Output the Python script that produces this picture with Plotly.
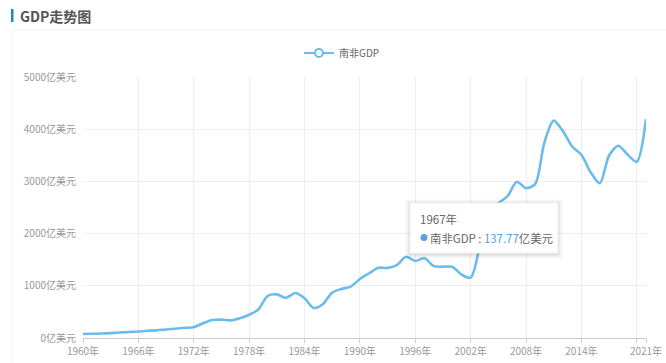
import plotly.graph_objects as go

# ---------------- data (亿美元) ----------------
years = list(range(1960, 2022))
gdp = [76, 80, 85, 94, 104, 114, 124, 137.77, 147, 164,
       178, 195, 207, 281, 345, 352, 338, 380, 445, 545,
       805, 835, 770, 862, 762, 575, 652, 870, 940, 985,
       1130, 1239, 1345, 1343, 1398, 1555, 1476, 1526, 1378, 1366,
       1364, 1216, 1157, 1753, 2286, 2578, 2716, 2994, 2871, 2952,
       3753, 4164, 3963, 3668, 3511, 3176, 2964, 3496, 3683, 3514,
       3376, 4190]
series_name = "南非GDP"
x_tick_years = [1960, 1966, 1972, 1978, 1984, 1990, 1996, 2002, 2008, 2014, 2020, 2021]
x_tick_labels = [f"{y}年" if y != 2020 else "" for y in x_tick_years]
y_ticks = [0, 1000, 2000, 3000, 4000, 5000]
y_tick_labels = [f"{v}亿美元" for v in y_ticks]
tooltip_year = 1967

# ---------------- geometry ----------------
W, H = 666, 363
L, R, T, B = 83, 646, 77, 338
def px(p):
    return (p - L) / (R - L)
def py(p):
    return (B - p) / (B - T)

LINE_COLOR = "#6bbcec"
FONT = "Microsoft YaHei, Noto Sans CJK SC, sans-serif"

fig = go.Figure()
fig.add_trace(go.Scatter(
    x=years, y=gdp, mode="lines", name=series_name, showlegend=False,
    line=dict(color=LINE_COLOR, width=2.6, shape="spline", smoothing=0.8),
    hoverinfo="skip",
))
# legend entry (echarts-style icon: line with hollow circle)
fig.add_trace(go.Scatter(
    x=[None], y=[None], mode="lines+markers", name=series_name,
    line=dict(color=LINE_COLOR, width=2),
    marker=dict(symbol="circle", size=8, color="white",
                line=dict(color=LINE_COLOR, width=2)),
))

shapes = []
# panel border
shapes.append(dict(type="line", xref="paper", yref="paper",
                   x0=px(12), x1=px(666), y0=py(30), y1=py(30),
                   line=dict(color="#f0f0f0", width=1)))
shapes.append(dict(type="line", xref="paper", yref="paper",
                   x0=px(12), x1=px(12), y0=py(30), y1=py(363),
                   line=dict(color="#f0f0f0", width=1)))
# title bar
shapes.append(dict(type="rect", xref="paper", yref="paper",
                   x0=px(11), x1=px(13.5), y0=py(9), y1=py(22),
                   fillcolor="#1f8bb0", line=dict(width=0)))

# tooltip box with soft shadow
bx0, bx1, by0, by1 = 410, 558, 203, 253
for i, op in [(5, 0.015), (4, 0.02), (3, 0.025), (2, 0.03), (1, 0.04)]:
    shapes.append(dict(type="rect", xref="paper", yref="paper",
                       x0=px(bx0 - i), x1=px(bx1 + i), y0=py(by0 - i + 1), y1=py(by1 + i + 1),
                       fillcolor=f"rgba(0,0,0,{op})", line=dict(width=0)))
shapes.append(dict(type="rect", xref="paper", yref="paper",
                   x0=px(bx0), x1=px(bx1), y0=py(by0), y1=py(by1),
                   fillcolor="white", line=dict(color="#f2f2f2", width=1)))
shapes.append(dict(type="circle", xref="paper", yref="paper",
                   x0=px(420.5), x1=px(427.5), y0=py(234), y1=py(241),
                   fillcolor="#5a9fe0", line=dict(width=0)))

tip_value = gdp[years.index(tooltip_year)]
annotations = [
    dict(xref="paper", yref="paper", x=px(18), y=py(16), xanchor="left", yanchor="middle",
         text="<b>GDP走势图</b>", showarrow=False,
         font=dict(family=FONT, size=14, color="#555555")),
    dict(xref="paper", yref="paper", x=px(418), y=py(219), xanchor="left", yanchor="middle",
         text=f"{tooltip_year}年", showarrow=False,
         font=dict(family=FONT, size=11.5, color="#666666")),
    dict(xref="paper", yref="paper", x=px(428), y=py(237.5), xanchor="left", yanchor="middle",
         text=f"{series_name} : <span style='color:#4fa3e0'>{tip_value}</span>亿美元",
         showarrow=False, font=dict(family=FONT, size=11.4, color="#666666")),
]

fig.update_layout(
    width=W, height=H,
    margin=dict(l=L, r=W - R, t=T, b=H - B, pad=0),
    paper_bgcolor="white", plot_bgcolor="white",
    font=dict(family=FONT, size=10, color="#999999"),
    shapes=shapes, annotations=annotations,
    legend=dict(orientation="h", x=px(342), xanchor="center", y=py(53), yanchor="middle",
                font=dict(size=10, color="#666666"), bgcolor="rgba(0,0,0,0)",
                itemwidth=30),
    xaxis=dict(range=[1960, 2021], tickmode="array", tickvals=x_tick_years,
               ticktext=x_tick_labels, showgrid=True, gridcolor="#eeeeee",
               showline=True, linecolor="#cccccc", linewidth=1,
               ticks="outside", ticklen=4, tickcolor="#cccccc",
               zeroline=False, automargin=False, tickfont=dict(size=10, color="#999999")),
    yaxis=dict(range=[0, 5000], tickmode="array", tickvals=y_ticks,
               ticktext=y_tick_labels, showgrid=True, gridcolor="#eeeeee",
               showline=False, zeroline=False, ticks="outside", ticklen=4,
               tickcolor="rgba(0,0,0,0)", automargin=False,
               tickfont=dict(size=10, color="#999999")),
    hovermode=False,
)

fig.write_html("out.html", config={"displayModeBar": False},
               post_script="document.body.style.margin='0';")
